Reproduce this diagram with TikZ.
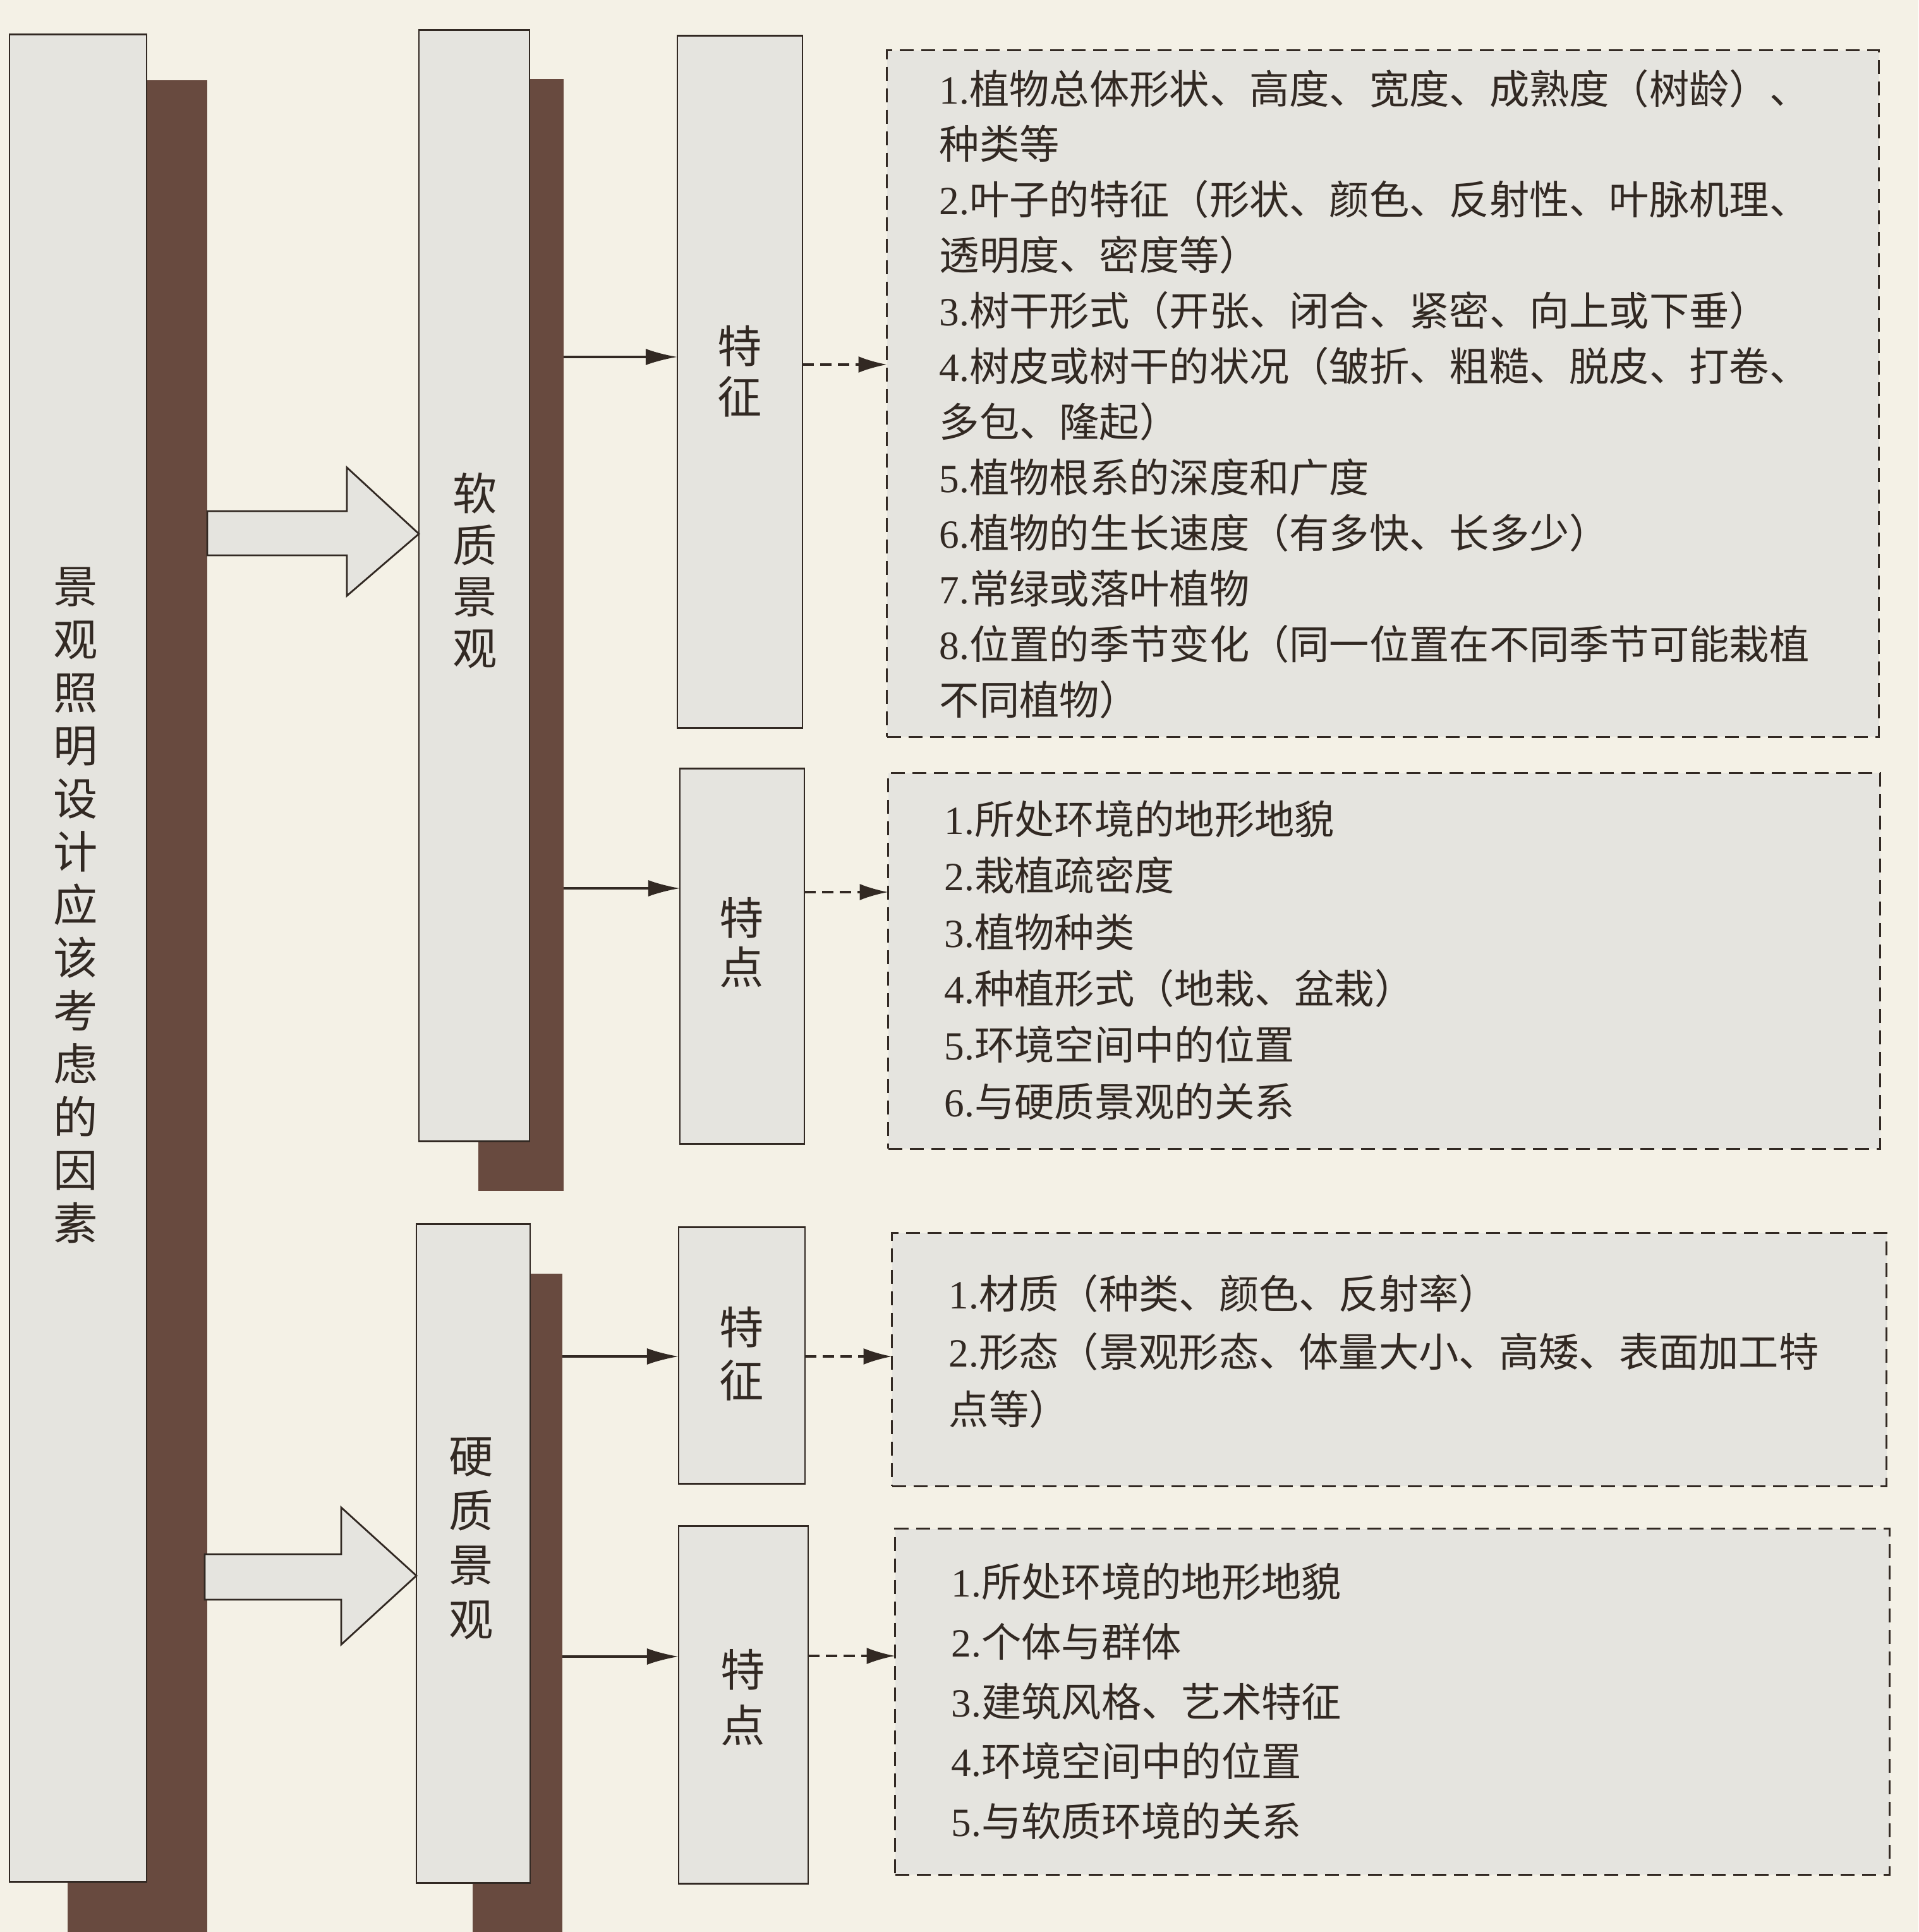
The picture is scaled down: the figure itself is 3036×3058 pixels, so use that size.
\documentclass[tikz,border=0pt]{standalone}
\usepackage{fontspec}
\setmainfont{Noto Sans CJK SC}
\newfontfamily\latf{Liberation Serif}
\usetikzlibrary{arrows.meta}
\definecolor{paper}{RGB}{244,241,230}
\definecolor{boxfill}{RGB}{229,228,223}
\definecolor{shadowc}{RGB}{104,74,63}
\definecolor{inkc}{RGB}{50,41,35}
\newcommand\itemno[1]{{\latf #1.}}
\tikzset{
  shadowbox/.style={fill=shadowc, draw=none, inner sep=0, outer sep=0},
  mainbox/.style={fill=boxfill, draw=inkc, line width=0.8pt, inner sep=0, outer sep=0},
  dashbox/.style={fill=boxfill, draw=inkc, line width=0.9pt, dash pattern=on 0.22cm off 0.12cm, inner sep=0, outer sep=0},
  vlabel/.style={align=center, text=inkc, inner sep=0},
  listtext/.style={align=left, text=inkc, anchor=west, inner sep=0},
  solidarrow/.style={draw=inkc, line width=0.9pt, -{Latex[length=0.5cm,width=0.26cm]}},
  dasharrow/.style={draw=inkc, line width=0.9pt, dash pattern=on 0.18cm off 0.1cm, -{Latex[length=0.45cm,width=0.26cm]}},
  bigarrow/.style={fill=boxfill, draw=inkc, line width=0.8pt, line join=miter},
}
\begin{document}
\begin{tikzpicture}[x=0.01cm,y=-0.01cm]
\useasboundingbox (0,0) rectangle (3036,3058);
\fill[paper] (0,0) rectangle (3036,3058);

% left column
\node[shadowbox, minimum width=2.21cm, minimum height=29.40cm] (bs) at (217.5,1598) {};
\node[mainbox, minimum width=2.17cm, minimum height=29.23cm] (bb) at (123.5,1516.5) {};
\node[vlabel, font=\fontsize{20pt}{23.9pt}\selectfont] (bl) at (120,1433) {景\\观\\照\\明\\设\\计\\应\\该\\考\\虑\\的\\因\\素};

% soft landscape
\node[shadowbox, minimum width=1.35cm, minimum height=17.58cm] (ss) at (824.5,1005) {};
\node[mainbox, minimum width=1.75cm, minimum height=17.58cm] (sb) at (750.5,927) {};
\node[vlabel, font=\fontsize{20pt}{23.2pt}\selectfont] (sl) at (752,903) {软\\质\\景\\观};

% hard landscape
\node[shadowbox, minimum width=1.42cm, minimum height=10.50cm] (hs) at (819,2541) {};
\node[mainbox, minimum width=1.80cm, minimum height=10.42cm] (hb) at (749,2459) {};
\node[vlabel, font=\fontsize{20pt}{24.5pt}\selectfont] (hl) at (746,2435) {硬\\质\\景\\观};

% big hollow arrows
\draw[bigarrow] (328,809) -- (549,809) -- (549,740) -- (sb.west |- 0,845) -- (549,943) -- (549,879) -- (328,879) -- cycle;
\draw[bigarrow] (324,2460) -- (540,2460) -- (540,2386) -- (hb.west |- 0,2494) -- (540,2603) -- (540,2532) -- (324,2532) -- cycle;

% small boxes
\node[mainbox, minimum width=1.98cm, minimum height=10.95cm] (f1) at (1171,604.5) {};
\node[vlabel, font=\fontsize{20pt}{22.8pt}\selectfont] (f1l) at (1171,588) {特\\征};
\node[mainbox, minimum width=1.97cm, minimum height=5.93cm] (f2) at (1174.5,1513.5) {};
\node[vlabel, font=\fontsize{20pt}{22.2pt}\selectfont] (f2l) at (1174,1492) {特\\点};
\node[mainbox, minimum width=2.00cm, minimum height=4.05cm] (f3) at (1174,2145.5) {};
\node[vlabel, font=\fontsize{20pt}{23.9pt}\selectfont] (f3l) at (1174,2143) {特\\征};
\node[mainbox, minimum width=2.05cm, minimum height=5.65cm] (f4) at (1176.5,2698.5) {};
\node[vlabel, font=\fontsize{20pt}{25pt}\selectfont] (f4l) at (1176,2687) {特\\点};

% dashed boxes
\node[dashbox, minimum width=15.69cm, minimum height=10.86cm] (d1) at (2188.5,623) {};
\node[listtext, font=\fontsize{18pt}{25pt}\selectfont] (t1) at (1486,623.5) {%
\itemno{1}植物总体形状、高度、宽度、成熟度（树龄）、\\
种类等\\
\itemno{2}叶子的特征（形状、颜色、反射性、叶脉机理、\\
透明度、密度等）\\
\itemno{3}树干形式（开张、闭合、紧密、向上或下垂）\\
\itemno{4}树皮或树干的状况（皱折、粗糙、脱皮、打卷、\\
多包、隆起）\\
\itemno{5}植物根系的深度和广度\\
\itemno{6}植物的生长速度（有多快、长多少）\\
\itemno{7}常绿或落叶植物\\
\itemno{8}位置的季节变化（同一位置在不同季节可能栽植\\
不同植物）};

\node[dashbox, minimum width=15.69cm, minimum height=5.94cm] (d2) at (2190.5,1521) {};
\node[listtext, font=\fontsize{18pt}{25.4pt}\selectfont] (t2) at (1494,1519.5) {%
\itemno{1}所处环境的地形地貌\\
\itemno{2}栽植疏密度\\
\itemno{3}植物种类\\
\itemno{4}种植形式（地栽、盆栽）\\
\itemno{5}环境空间中的位置\\
\itemno{6}与硬质景观的关系};

\node[dashbox, minimum width=15.73cm, minimum height=4.00cm] (d3) at (2198.5,2152) {};
\node[listtext, font=\fontsize{18pt}{26pt}\selectfont] (t3) at (1501,2139) {%
\itemno{1}材质（种类、颜色、反射率）\\
\itemno{2}形态（景观形态、体量大小、高矮、表面加工特\\
点等）};

\node[dashbox, minimum width=15.73cm, minimum height=5.47cm] (d4) at (2203.5,2693.5) {};
\node[listtext, font=\fontsize{18pt}{26.9pt}\selectfont] (t4) at (1505,2693) {%
\itemno{1}所处环境的地形地貌\\
\itemno{2}个体与群体\\
\itemno{3}建筑风格、艺术特征\\
\itemno{4}环境空间中的位置\\
\itemno{5}与软质环境的关系};

% solid arrows
\draw[solidarrow] (ss.east |- 0,565) -- (f1.west |- 0,565);
\draw[solidarrow] (ss.east |- 0,1406) -- (f2.west |- 0,1406);
\draw[solidarrow] (hs.east |- 0,2147) -- (f3.west |- 0,2147);
\draw[solidarrow] (hs.east |- 0,2622) -- (f4.west |- 0,2622);

% dashed arrows
\draw[dasharrow] (f1.east |- 0,577) -- (d1.west |- 0,577);
\draw[dasharrow] (f2.east |- 0,1412) -- (d2.west |- 0,1412);
\draw[dasharrow] (f3.east |- 0,2147) -- (d3.west |- 0,2147);
\draw[dasharrow] (f4.east |- 0,2621) -- (d4.west |- 0,2621);
\end{tikzpicture}
\end{document}
